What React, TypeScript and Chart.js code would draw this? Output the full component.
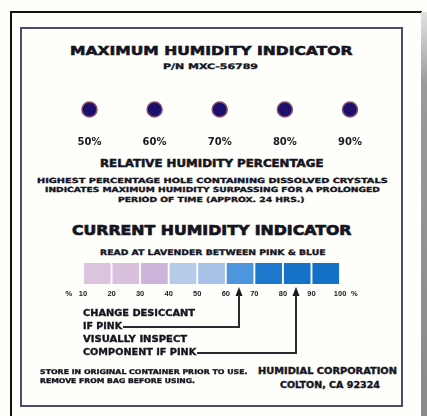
import React, { useEffect, useLayoutEffect, useRef, useState } from 'react';
import { Chart, registerables } from 'chart.js';

Chart.register(...registerables);

// ---- data ----
const maxLevels = [50, 60, 70, 80, 90];
const maxLevelLabels = ['50%', '60%', '70%', '80%', '90%'];
const swatchLevels = [15, 25, 35, 45, 55, 65, 75, 85, 95];
const scaleTicks = [5, 10, 20, 30, 40, 50, 60, 70, 80, 90, 100, 105];
const scaleTickLabels = ['%', '10', '20', '30', '40', '50', '60', '70', '80', '90', '100', '%'];
const arrowLevels = [64.5, 84.5];

// ---- styles ----
const SWATCH_COLORS = [
  '#dcc4de', '#d8c0de', '#cbb3da', '#b6cbea', '#a6c0e6',
  '#4d95dc', '#1b78cc', '#1672c8', '#1570c8',
];
const ARROW_ELBOW_Y = [64, 90];
const ARROW_END_X = [123, 197];
const FONT = '"DejaVu Sans", "Liberation Sans", sans-serif';

type FitProps = { text: string; x1: number; x2: number; y: number; size: number; stroke?: number; color?: string };

function FitText({ text, x1, x2, y, size, stroke = 0.35, color = '#15151f' }: FitProps) {
  const ref = useRef<HTMLSpanElement>(null);
  const [sx, setSx] = useState(1);
  useLayoutEffect(() => {
    const el = ref.current;
    if (el && el.offsetWidth > 0) setSx((x2 - x1) / el.offsetWidth);
  }, [text, x1, x2, size]);
  return (
    <span
      ref={ref}
      style={{
        position: 'absolute',
        left: x1,
        top: y - size * 0.48,
        fontSize: size,
        lineHeight: `${size}px`,
        fontFamily: FONT,
        fontWeight: 700,
        color,
        WebkitTextStroke: `${stroke}px ${color}`,
        whiteSpace: 'nowrap',
        transform: `scaleX(${sx})`,
        transformOrigin: 'left center',
      }}
    >
      {text}
    </span>
  );
}

function DotsChart() {
  const ref = useRef<HTMLCanvasElement>(null);
  useEffect(() => {
    if (!ref.current) return;
    const pxPerUnit = 6.8;
    const min = 50 - 84 / pxPerUnit;
    const max = min + 427 / pxPerUnit;
    const chart = new Chart(ref.current, {
      type: 'scatter',
      data: {
        datasets: [
          {
            data: maxLevels.map((v) => ({ x: v, y: 0 })),
            pointRadius: 7.5,
            pointBackgroundColor: '#1c0f6e',
            pointBorderColor: '#85506a',
            pointBorderWidth: 1.5,
          },
        ],
      },
      options: {
        animation: false,
        responsive: false,
        events: [],
        layout: { padding: 0 },
        plugins: { legend: { display: false }, tooltip: { enabled: false } },
        scales: {
          x: {
            type: 'linear',
            min,
            max,
            afterBuildTicks: (s: any) => {
              s.ticks = maxLevels.map((v) => ({ value: v }));
            },
            afterFit: (s: any) => {
              s.height = 22;
            },
            ticks: {
              callback: (_v: any, i: number) => maxLevelLabels[i],
              font: { family: FONT, size: 10, weight: 'bold' },
              color: '#1a1a22',
              padding: 3,
              autoSkip: false,
              maxRotation: 0,
            },
            grid: { display: false, drawTicks: false },
            border: { display: false },
          },
          y: { display: false, min: -1, max: 1 },
        },
      },
    } as any);
    return () => chart.destroy();
  }, []);
  return (
    <canvas
      ref={ref}
      width={427}
      height={78}
      style={{ position: 'absolute', left: 0, top: 77, width: 427, height: 78 }}
    />
  );
}

function ScaleChart() {
  const ref = useRef<HTMLCanvasElement>(null);
  useEffect(() => {
    if (!ref.current) return;
    const pxPerUnit = 2.856;
    const min = 10 - 83 / pxPerUnit;
    const max = min + 427 / pxPerUnit;
    const arrowPlugin = {
      id: 'arrows',
      afterDraw(chart: any) {
        const { ctx } = chart;
        const xs = chart.scales.x;
        const tipY = xs.top + 3;
        ctx.save();
        ctx.strokeStyle = '#2a2a30';
        ctx.fillStyle = '#1a1a20';
        ctx.lineWidth = 2;
        arrowLevels.forEach((lv, i) => {
          const px = Math.round(xs.getPixelForValue(lv));
          ctx.beginPath();
          ctx.moveTo(px, tipY);
          ctx.lineTo(px - 3.5, tipY + 9);
          ctx.lineTo(px + 3.5, tipY + 9);
          ctx.closePath();
          ctx.fill();
          ctx.beginPath();
          ctx.moveTo(px, tipY + 8);
          ctx.lineTo(px, ARROW_ELBOW_Y[i]);
          ctx.lineTo(ARROW_END_X[i], ARROW_ELBOW_Y[i]);
          ctx.stroke();
        });
        ctx.restore();
      },
    };
    const chart = new Chart(ref.current, {
      type: 'bar',
      data: {
        datasets: [
          {
            data: swatchLevels.map((v) => ({ x: v, y: 1 })),
            backgroundColor: SWATCH_COLORS,
            barThickness: 26,
            borderWidth: 0,
          },
        ],
      },
      options: {
        animation: false,
        responsive: false,
        events: [],
        layout: { padding: { left: 0, right: 0, top: 0, bottom: 61 } },
        plugins: { legend: { display: false }, tooltip: { enabled: false } },
        scales: {
          x: {
            type: 'linear',
            min,
            max,
            offset: false,
            afterBuildTicks: (s: any) => {
              s.ticks = scaleTicks.map((v) => ({ value: v }));
            },
            afterFit: (s: any) => {
              s.height = 14;
            },
            ticks: {
              callback: (_v: any, i: number) => scaleTickLabels[i],
              font: { family: '"Liberation Sans", Arial, sans-serif', size: 7.5, weight: 'bold' },
              color: '#1a1a22',
              padding: 5.5,
              autoSkip: false,
              maxRotation: 0,
            },
            grid: { display: false, drawTicks: false },
            border: { display: false },
          },
          y: { display: false, min: 0, max: 1 },
        },
      },
      plugins: [arrowPlugin],
    } as any);
    return () => chart.destroy();
  }, []);
  return (
    <canvas
      ref={ref}
      width={427}
      height={96}
      style={{ position: 'absolute', left: 0, top: 263, width: 427, height: 96 }}
    />
  );
}

export default function App() {
  return (
    <div
      style={{
        position: 'absolute',
        left: 0,
        top: 0,
        width: 427,
        height: 416,
        background: '#fefefb',
        overflow: 'hidden',
      }}
    >
      {/* outer frame */}
      <div style={{ position: 'absolute', left: 10, top: 11, width: 412, height: 1.5, background: '#111' }} />
      <div style={{ position: 'absolute', left: 10, top: 11, width: 1.5, height: 405, background: '#111' }} />
      <div
        style={{
          position: 'absolute',
          left: 421,
          top: 12,
          width: 6,
          height: 404,
          background: 'linear-gradient(to bottom, #e2e2e2, #9a9a9a 18%, #8a8a8a)',
        }}
      />
      {/* inner frame */}
      <div
        style={{
          position: 'absolute',
          left: 20,
          top: 27,
          width: 383,
          height: 380,
          boxSizing: 'border-box',
          border: '2.5px solid #4b4b6e',
        }}
      />

      <FitText text="MAXIMUM HUMIDITY INDICATOR" x1={70} x2={352} y={50} size={13} stroke={0.6} />
      <FitText text="P/N MXC-56789" x1={163} x2={258} y={67} size={7.5} />

      <DotsChart />

      <FitText text="RELATIVE HUMIDITY PERCENTAGE" x1={100} x2={323} y={164} size={10} stroke={0.5} />
      <FitText text="HIGHEST PERCENTAGE HOLE CONTAINING DISSOLVED CRYSTALS" x1={37} x2={387} y={181} size={7} />
      <FitText text="INDICATES MAXIMUM HUMIDITY SURPASSING FOR A PROLONGED" x1={45} x2={380} y={190} size={7} />
      <FitText text="PERIOD OF TIME (APPROX. 24 HRS.)" x1={118} x2={305} y={200} size={7} />

      <FitText text="CURRENT HUMIDITY INDICATOR" x1={72} x2={352} y={230} size={14} stroke={0.7} />
      <FitText text="READ AT LAVENDER BETWEEN PINK & BLUE" x1={100} x2={325} y={253} size={7.5} />

      <ScaleChart />

      <FitText text="CHANGE DESICCANT" x1={83} x2={195} y={313} size={8.5} />
      <FitText text="IF PINK" x1={83} x2={122} y={326} size={8.5} />
      <FitText text="VISUALLY INSPECT" x1={83} x2={187} y={339} size={8.5} />
      <FitText text="COMPONENT IF PINK" x1={83} x2={196} y={352} size={8.5} />

      <FitText text="STORE IN ORIGINAL CONTAINER PRIOR TO USE." x1={40} x2={247} y={372} size={6.5} />
      <FitText text="REMOVE FROM BAG BEFORE USING." x1={40} x2={195} y={381} size={6.5} />
      <FitText text="HUMIDIAL CORPORATION" x1={258} x2={397} y={372} size={8} />
      <FitText text="COLTON, CA 92324" x1={280} x2={380} y={386} size={8} />
    </div>
  );
}
